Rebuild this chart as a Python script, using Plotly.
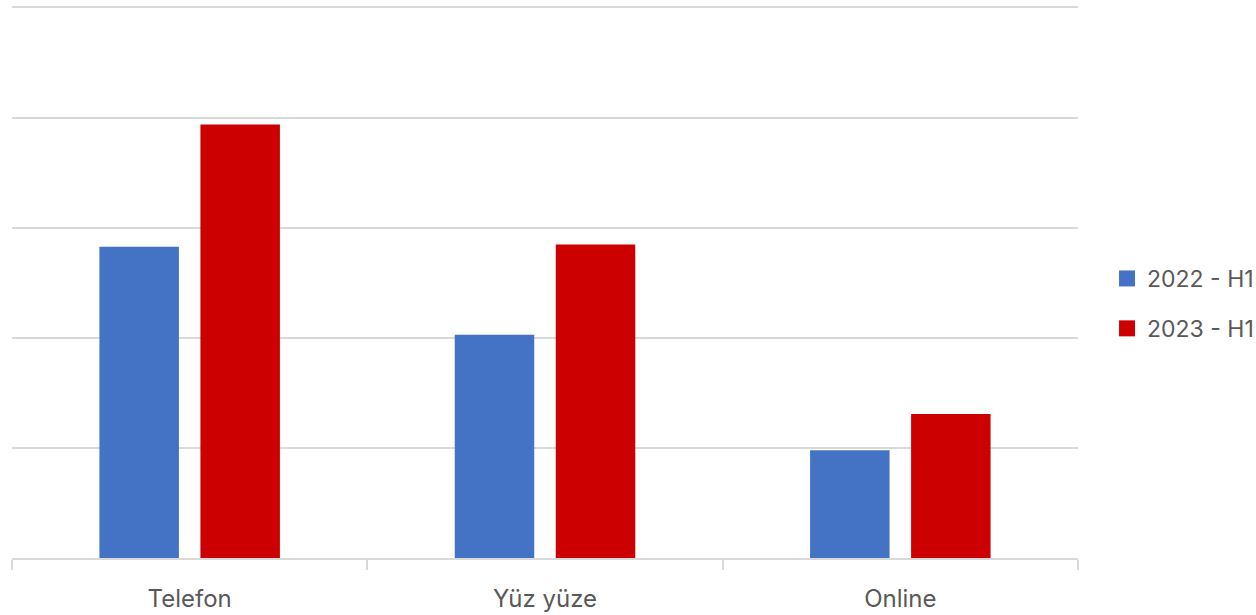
import plotly.graph_objects as go

categories = ["Telefon", "Yüz yüze", "Online"]
series_2022 = [2.83, 2.03, 0.98]
series_2023 = [3.94, 2.85, 1.31]
names = ["2022 - H1", "2023 - H1"]
colors = ["#4472C4", "#CC0000"]

fig = go.Figure()
for i, (name, vals) in enumerate(zip(names, [series_2022, series_2023])):
    fig.add_trace(go.Bar(x=categories, y=vals, name=name, marker_color=colors[i],
                         marker_line_width=0, legendgroup=name, showlegend=False))
for i, name in enumerate(names):
    fig.add_trace(go.Scatter(x=[None], y=[None], mode="markers", name=name,
                             marker=dict(symbol="square", size=16, color=colors[i]),
                             legendgroup=name, showlegend=True))

fig.update_layout(
    width=1256, height=615,
    margin=dict(l=12, r=178, t=8, b=57, autoexpand=False),
    paper_bgcolor="white", plot_bgcolor="white",
    barmode="group", bargap=0.4315, bargroupgap=0.213,
    font=dict(family="Inter, Roboto, sans-serif", size=24, color="#595959"),
    legend=dict(xref="container", yref="container", x=0.8814, y=0.5065,
                xanchor="left", yanchor="middle",
                traceorder="grouped", tracegroupgap=17,
                font=dict(size=23, color="#595959")),
    showlegend=True,
)
fig.update_xaxes(showline=True, mirror=True, linecolor="#d9d9d9", linewidth=2,
                 ticks="outside", tickson="boundaries", ticklen=10, tickwidth=2,
                 tickcolor="#d9d9d9", showgrid=False, ticklabelstandoff=18,
                 automargin=False)
fig.update_yaxes(range=[0, 5], dtick=1, showgrid=True,
                 gridcolor="#d9d9d9", gridwidth=2, automargin=False,
                 showticklabels=False, zeroline=False, showline=False)

fig.write_html("out.html", config={"displayModeBar": False},
               post_script="document.body.style.margin='0';")
